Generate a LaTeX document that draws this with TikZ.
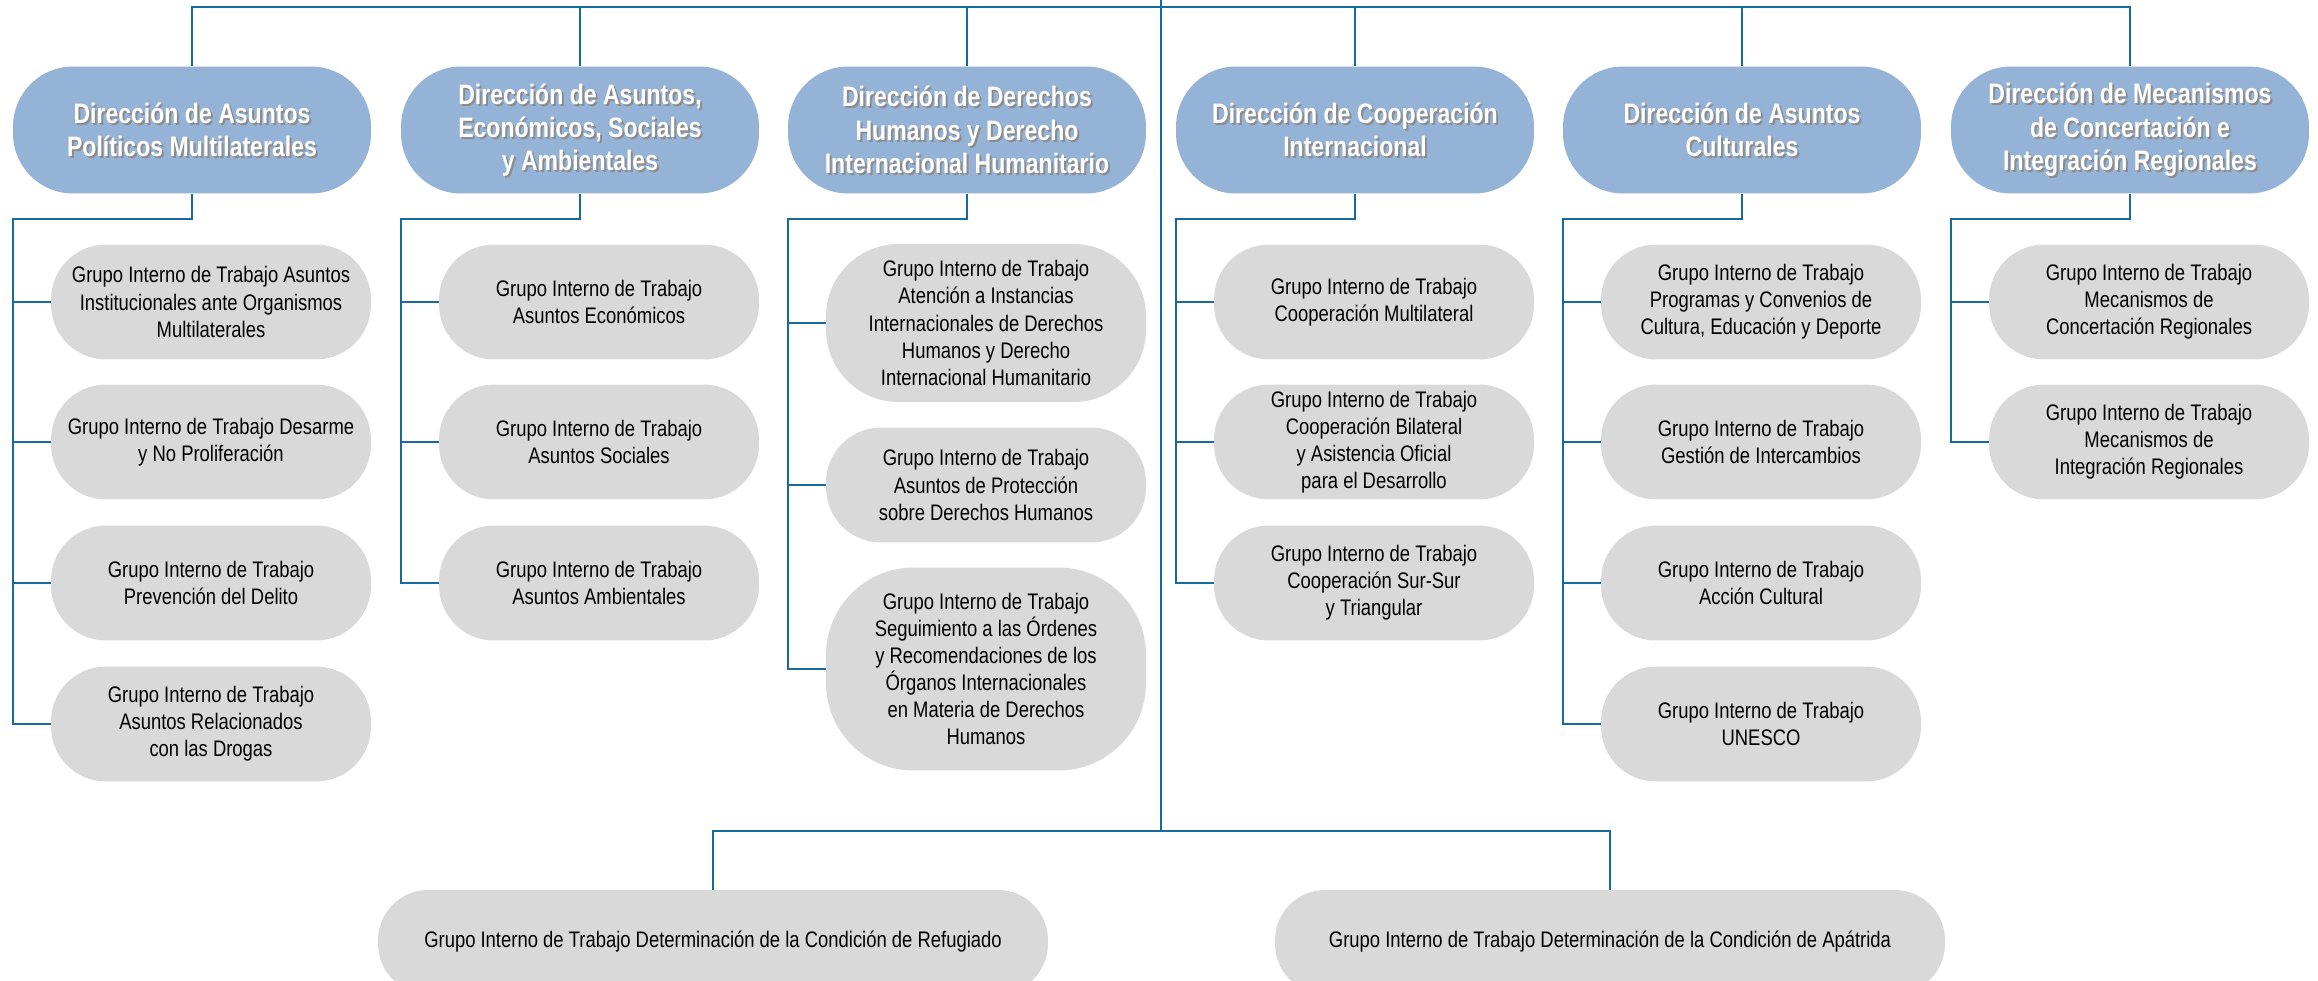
\documentclass[tikz,border=0pt]{standalone}
\usepackage{fontspec}
\setmainfont{Liberation Sans}[FakeStretch=0.82]
\usetikzlibrary{calc}
\definecolor{dirblue}{RGB}{149,179,215}
\definecolor{grupogray}{RGB}{217,217,217}
\definecolor{lineblue}{RGB}{22,106,158}
\tikzstyle{direccion} = [rectangle, rounded corners=1.2cm, 
minimum width=7.16cm, 
minimum height=2.54cm, 
inner sep=0pt, 
fill=dirblue]
\tikzstyle{dirtext} = [align=center, 
text=white, 
font=\fontsize{16}{19}\selectfont\bfseries]
\tikzstyle{dirshadow} = [dirtext, text=black!45]
\tikzstyle{grupo} = [rectangle, rounded corners=1.1cm, 
minimum width=6.4cm, 
minimum height=2.3cm, 
align=center, 
fill=grupogray, 
font=\fontsize{12.8}{15.4}\selectfont]
\tikzstyle{rama} = [draw=lineblue, line width=1pt]
\tikzstyle{subrama} = [draw=lineblue, line width=1.5pt]
\newcommand{\dirnode}[3]{%
  \node (#1) [direccion] at (#2) {};
  \node (#1s) [dirshadow] at ($(#2)+(2,2)$) {#3};
  \node (#1t) [dirtext] at (#2) {#3};}

\begin{document}
\begin{tikzpicture}[x=0.02cm, y=-0.02cm]
		\useasboundingbox (0,0) rectangle (2318,980);
		\dirnode{d1}{192,130}{Dirección de Asuntos\\Políticos Multilaterales}
		\dirnode{d2}{580,130}{Dirección de Asuntos,\\Económicos, Sociales\\y Ambientales}
		\dirnode{d3}{967,130}{Dirección de Derechos\\Humanos y Derecho\\Internacional Humanitario}
		\dirnode{d4}{1355,130}{Dirección de Cooperación\\Internacional}
		\dirnode{d5}{1742,130}{Dirección de Asuntos\\Culturales}
		\dirnode{d6}{2130,130}{Dirección de Mecanismos\\de Concertación e\\Integración Regionales}
		
		\node (g1a) [grupo] at (211,302) {Grupo Interno de Trabajo Asuntos\\Institucionales ante Organismos\\Multilaterales};
		\node (g1b) [grupo] at (211,442) {Grupo Interno de Trabajo Desarme\\y No Proliferación};
		\node (g1c) [grupo] at (211,583) {Grupo Interno de Trabajo\\Prevención del Delito};
		\node (g1d) [grupo] at (211,724) {Grupo Interno de Trabajo\\Asuntos Relacionados\\con las Drogas};
		
		\node (g2a) [grupo] at (599,302) {Grupo Interno de Trabajo\\Asuntos Económicos};
		\node (g2b) [grupo] at (599,442) {Grupo Interno de Trabajo\\Asuntos Sociales};
		\node (g2c) [grupo] at (599,583) {Grupo Interno de Trabajo\\Asuntos Ambientales};
		
		\node (g3a) [grupo, minimum height=3.16cm, rounded corners=1.45cm] at (986,323) {Grupo Interno de Trabajo\\Atención a Instancias\\Internacionales de Derechos\\Humanos y Derecho\\Internacional Humanitario};
		\node (g3b) [grupo] at (986,485) {Grupo Interno de Trabajo\\Asuntos de Protección\\sobre Derechos Humanos};
		\node (g3c) [grupo, minimum height=4.06cm, rounded corners=1.75cm] at (986,669) {Grupo Interno de Trabajo\\Seguimiento a las Órdenes\\y Recomendaciones de los\\Órganos Internacionales\\en Materia de Derechos\\Humanos};
		
		\node (g4a) [grupo] at (1374,302) {Grupo Interno de Trabajo\\Cooperación Multilateral};
		\node (g4b) [grupo] at (1374,442) {Grupo Interno de Trabajo\\Cooperación Bilateral\\y Asistencia Oficial\\para el Desarrollo};
		\node (g4c) [grupo] at (1374,583) {Grupo Interno de Trabajo\\Cooperación Sur-Sur\\y Triangular};
		
		\node (g5a) [grupo] at (1761,302) {Grupo Interno de Trabajo\\Programas y Convenios de\\Cultura, Educación y Deporte};
		\node (g5b) [grupo] at (1761,442) {Grupo Interno de Trabajo\\Gestión de Intercambios};
		\node (g5c) [grupo] at (1761,583) {Grupo Interno de Trabajo\\Acción Cultural};
		\node (g5d) [grupo] at (1761,724) {Grupo Interno de Trabajo\\UNESCO};
		
		\node (g6a) [grupo] at (2149,302) {Grupo Interno de Trabajo\\Mecanismos de\\Concertación Regionales};
		\node (g6b) [grupo] at (2149,442) {Grupo Interno de Trabajo\\Mecanismos de\\Integración Regionales};
		
		\node (f1) [grupo, minimum width=13.4cm, minimum height=2.08cm, rounded corners=1cm] at (713,942) {Grupo Interno de Trabajo Determinación de la Condición de Refugiado};
		\node (f2) [grupo, minimum width=13.4cm, minimum height=2.08cm, rounded corners=1cm] at (1610,942) {Grupo Interno de Trabajo Determinación de la Condición de Apátrida};
		
		% top and bottom branches
		\coordinate (raiz) at (1161,0);
		\coordinate (tope) at (1161,7);
		\coordinate (base) at (1161,831);
		\draw [rama] (raiz) -- (base);
		\draw [rama] (d1.north) |- (tope) -| (d6.north);
		\foreach \d in {2,...,5}
			\draw [rama] (d\d.north) -- (d\d.north |- tope);
		\draw [rama] (f1.north) |- (base) -| (f2.north);
		
		% branches to the groups
		\foreach \d/\x/\last in {1/13/g1d, 2/401/g2c, 3/788/g3c, 4/1176/g4c, 5/1563/g5d, 6/1951/g6b} {
			\coordinate (b\d) at (\x,219);
			\draw [subrama] (d\d.south) |- (b\d) |- (\last.west);
		}
		\foreach \g/\d in {g1a/1, g1b/1, g1c/1, g2a/2, g2b/2, g3a/3, g3b/3, g4a/4, g4b/4, g5a/5, g5b/5, g5c/5, g6a/6}
			\draw [subrama] (\g.west) -- (\g.west -| b\d);
	\end{tikzpicture}
\end{document}
